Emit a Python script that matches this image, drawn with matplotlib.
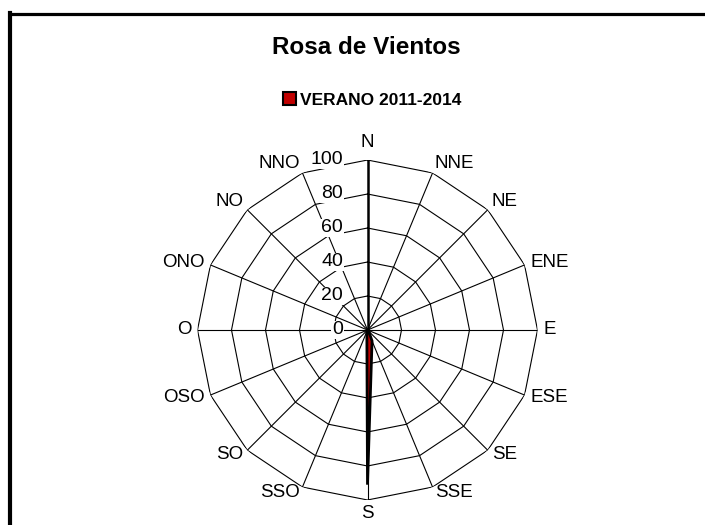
import numpy as np
from matplotlib import pyplot as plt
from matplotlib.lines import Line2D
from matplotlib.patches import Patch

plt.rcParams['font.family'] = ['Liberation Sans', 'DejaVu Sans']

# direcciones y frecuencias (verano 2011-2014)
directions = ['N', 'NNE', 'NE', 'ENE', 'E', 'ESE', 'SE', 'SSE',
              'S', 'SSO', 'SO', 'OSO', 'O', 'ONO', 'NO', 'NNO']
values = [0, 0, 0, 0, 0, 0.5, 1, 7, 91, 1, 0.5, 0, 0, 0, 0, 0]
rings = [20, 40, 60, 80, 100]
ring_labels = ['0', '20', '40', '60', '80', '100']
series_name = 'VERANO 2011-2014'
title = 'Rosa de Vientos'


def main():
    fig = plt.figure(figsize=(7.05, 5.25), dpi=100)

    # axes square: center (367.5, 330) px, radius 170 px
    cx, cy, rad = 367.5, 330, 170
    W, H = 705, 525
    ax = fig.add_axes([(cx - rad) / W, (H - cy - rad) / H, 2 * rad / W, 2 * rad / H],
                      projection='polar')
    ax.set_theta_zero_location('N')
    ax.set_theta_direction(-1)
    ax.set_ylim(0, 100)
    ax.grid(False)
    ax.spines['polar'].set_visible(False)
    ax.set_xticks([])
    ax.set_yticks([])
    ax.patch.set_alpha(0)

    n = len(directions)
    theta = np.arange(n) * 2 * np.pi / n
    theta_closed = np.append(theta, theta[0])

    # polygon gridlines
    for r in rings:
        ax.plot(theta_closed, [r] * (n + 1), color='black', lw=0.8, zorder=1)
    # spokes
    for i, t in enumerate(theta):
        ax.plot([t, t], [0, 100], color='black', lw=1.8 if i == 0 else 0.8, zorder=1)

    # data
    vals = np.append(values, values[0])
    ax.fill(theta_closed, vals, facecolor='#C00000', edgecolor='black',
            lw=2.0, zorder=3)

    # direction labels
    for t, lab in zip(theta, directions):
        s, c = np.sin(t), np.cos(t)
        if abs(s) < 0.1:
            ha = 'center'
            if c > 0:
                va, off = 'bottom', (0, 9)
            else:
                va, off = 'top', (0, -5)
        else:
            ha = 'left' if s > 0 else 'right'
            va = 'center'
            off = (6 * s, 6 * c + (4 if c > 0.5 else 0))
        ax.annotate(lab, xy=(t, 100), xytext=off, textcoords='offset pixels',
                    ha=ha, va=va, fontsize=13.5, annotation_clip=False)

    # value labels along N axis
    for r, lab in zip([0] + rings, ring_labels):
        ax.annotate(lab, xy=(0, r), xytext=(-24.5, 0), textcoords='offset pixels',
                    ha='right', va='center', fontsize=14, zorder=5,
                    bbox=dict(facecolor='white', edgecolor='none', pad=0.5),
                    annotation_clip=False)

    fig.text(366 / W, 1 - 47 / H, title, ha='center', va='center',
             fontsize=17.5, fontweight='bold')

    handle = Patch(facecolor='#C00000', edgecolor='black', linewidth=1.5)
    fig.legend([handle], [series_name], loc='center', bbox_to_anchor=(372 / W, 1 - 100 / H),
               frameon=False, prop={'weight': 'bold', 'size': 12.5},
               handlelength=0.75, handleheight=0.75, handletextpad=0.25,
               borderpad=0, borderaxespad=0)

    # chart area border (left and top)
    fig.add_artist(Line2D([10 / W, 10 / W], [0, 1 - 13 / H], color='black', lw=3,
                          transform=fig.transFigure, solid_capstyle='projecting'))
    fig.add_artist(Line2D([10 / W, 1], [1 - 14 / H, 1 - 14 / H], color='black', lw=2.3,
                          transform=fig.transFigure, solid_capstyle='projecting'))

    fig.savefig('out.png', dpi=100, facecolor='white')


if __name__ == '__main__':
    main()
